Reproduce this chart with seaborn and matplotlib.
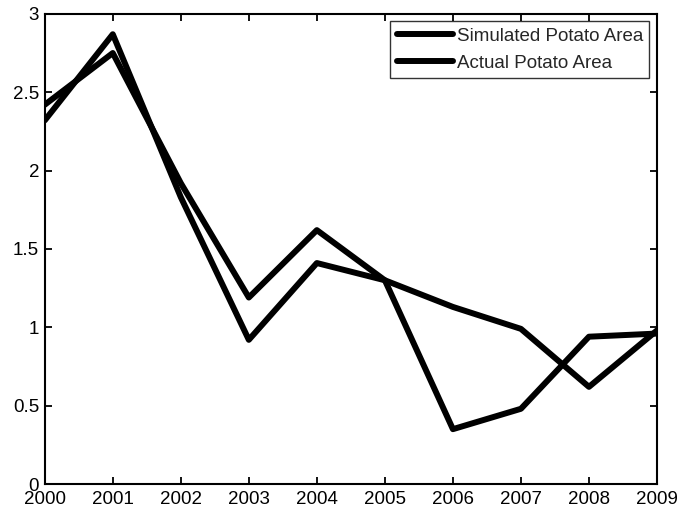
import pandas as pd
import matplotlib
matplotlib.use("Agg")
import matplotlib.pyplot as plt
import seaborn as sns

years = [2000, 2001, 2002, 2003, 2004, 2005, 2006, 2007, 2008, 2009]
simulated = [2.32, 2.87, 1.83, 0.92, 1.41, 1.30, 1.13, 0.99, 0.62, 0.98]
actual = [2.42, 2.75, 1.92, 1.19, 1.62, 1.30, 0.35, 0.48, 0.94, 0.96]
series_names = ["Simulated Potato Area", "Actual Potato Area"]

df = pd.concat([
    pd.DataFrame({"year": years, "area": simulated, "series": series_names[0]}),
    pd.DataFrame({"year": years, "area": actual, "series": series_names[1]}),
])

sns.set_style("ticks")
plt.rcParams["font.family"] = ["Liberation Sans", "DejaVu Sans"]

fig = plt.figure(figsize=(6.78, 5.13), dpi=100)
ax = fig.add_axes([0.066, 0.0565, 0.903, 0.9165])

sns.lineplot(data=df, x="year", y="area", hue="series", hue_order=series_names,
             palette=["black", "black"], linewidth=4.3, ax=ax)

ax.set_xlim(2000, 2009)
ax.set_ylim(0, 3)
ax.set_xticks(years)
ax.set_xticklabels([str(y) for y in years])
ax.set_yticks([0, 0.5, 1, 1.5, 2, 2.5, 3])
ax.set_yticklabels(["0", "0.5", "1", "1.5", "2", "2.5", "3"])
ax.set_xlabel("")
ax.set_ylabel("")

for side in ["top", "right", "bottom", "left"]:
    ax.spines[side].set_visible(True)
    ax.spines[side].set_linewidth(1.5)
    ax.spines[side].set_color("black")

ax.tick_params(direction="in", length=5, width=1.3, top=True, right=True,
               labelsize=13.5, colors="black")
ax.tick_params(axis="x", pad=5)
ax.tick_params(axis="y", pad=4)

leg = ax.legend(loc="upper right", fontsize=13.5, frameon=True, fancybox=False,
                handlelength=3.0, handletextpad=0.2, borderpad=0.35,
                labelspacing=0.5, borderaxespad=0.4)
leg.get_frame().set_edgecolor("black")
leg.get_frame().set_linewidth(1.0)
for line in leg.get_lines():
    line.set_linewidth(4.3)

fig.savefig("out.png", dpi=100)
